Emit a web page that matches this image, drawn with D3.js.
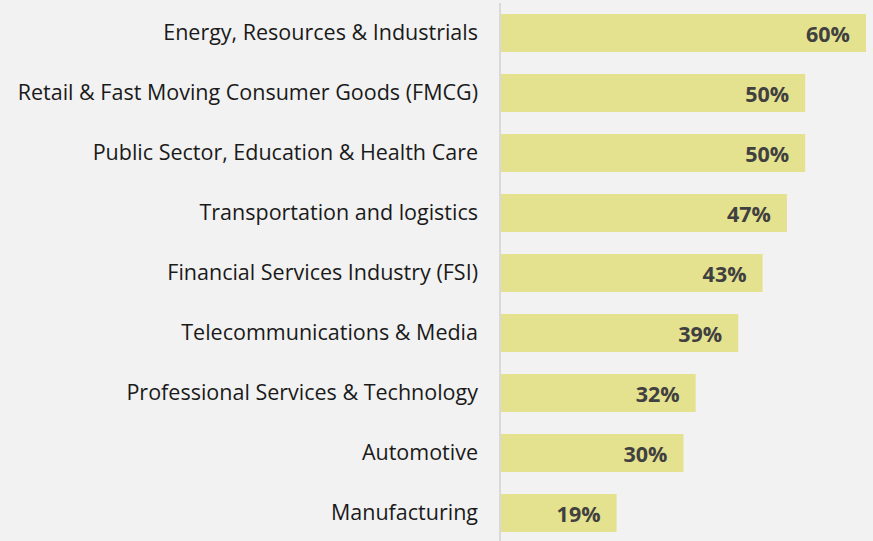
<!DOCTYPE html>
<html>
<head>
<meta charset="utf-8">
<script src="https://cdn.jsdelivr.net/npm/d3@7"></script>
<style>
  html, body { margin: 0; padding: 0; background: #f2f2f2; }
  svg { display: block; }
</style>
</head>
<body>
<svg id="chart" width="873" height="541"></svg>
<script>
const categories = [
  "Energy, Resources & Industrials",
  "Retail & Fast Moving Consumer Goods (FMCG)",
  "Public Sector, Education & Health Care",
  "Transportation and logistics",
  "Financial Services Industry (FSI)",
  "Telecommunications & Media",
  "Professional Services & Technology",
  "Automotive",
  "Manufacturing"
];
const values = [60, 50, 50, 47, 43, 39, 32, 30, 19];

const width = 873, height = 541;
const x0 = 501;

const svg = d3.select("#chart");
svg.append("rect").attr("width", width).attr("height", height).attr("fill", "#f2f2f2");

const x = d3.scaleLinear().domain([0, 60]).range([x0, 866]);
const y = d3.scaleBand().domain(categories).range([3, 543])
  .paddingInner(0.3667).paddingOuter(0.1833);

svg.append("g").selectAll("rect")
  .data(values)
  .join("rect")
  .attr("x", x(0))
  .attr("y", (d, i) => y(categories[i]))
  .attr("width", d => x(d) - x(0))
  .attr("height", y.bandwidth())
  .attr("fill", "#e4e28e");

// category axis on the left
const axis = svg.append("g")
  .attr("transform", `translate(${x0 - 1},0)`)
  .call(d3.axisLeft(y).tickSize(0).tickPadding(22));
axis.select(".domain").remove();
axis.selectAll("text")
  .attr("font-family", "'Open Sans', sans-serif")
  .attr("font-size", 21.5)
  .attr("fill", "#1a1a1a");

svg.append("line")
  .attr("x1", x0 - 1).attr("x2", x0 - 1)
  .attr("y1", 3).attr("y2", height)
  .attr("stroke", "#d9d9d9").attr("stroke-width", 2);

// value labels inside bar ends
svg.append("g").selectAll("text")
  .data(values)
  .join("text")
  .attr("x", d => x(d) - 16)
  .attr("y", (d, i) => y(categories[i]) + y.bandwidth() / 2 + 1.5)
  .attr("dy", "0.35em")
  .attr("text-anchor", "end")
  .attr("font-family", "'Open Sans', sans-serif")
  .attr("font-weight", "bold")
  .attr("font-size", 21.5)
  .attr("fill", "#404040")
  .text(d => d + "%");
</script>
</body>
</html>
